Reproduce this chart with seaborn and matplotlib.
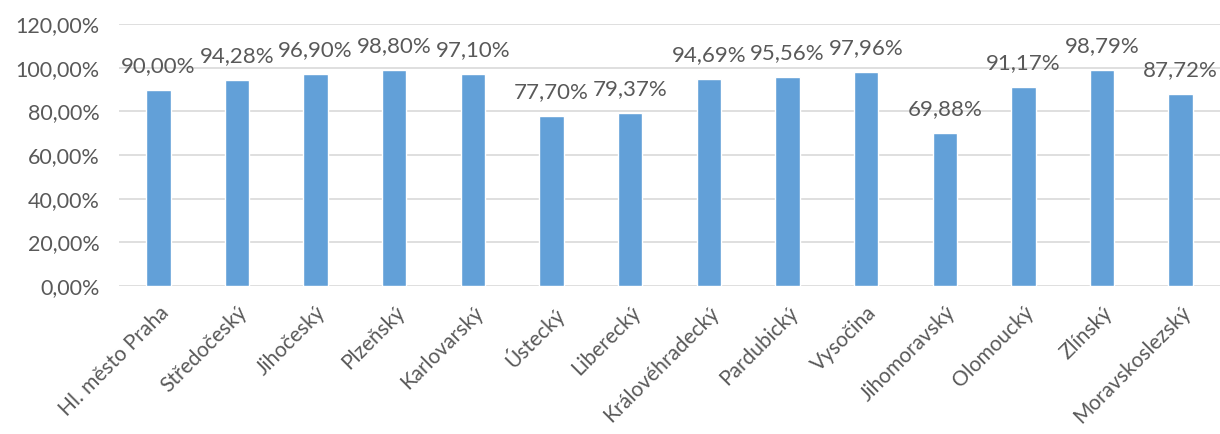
import matplotlib
matplotlib.use("Agg")
import matplotlib.pyplot as plt
import seaborn as sns
import pandas as pd

regions = ["Hl. město Praha", "Středočeský", "Jihočeský", "Plzeňský", "Karlovarský",
           "Ústecký", "Liberecký", "Královéhradecký", "Pardubický", "Vysočina",
           "Jihomoravský", "Olomoucký", "Zlínský", "Moravskoslezský"]
values = [90.00, 94.28, 96.90, 98.80, 97.10, 77.70, 79.37, 94.69, 95.56, 97.96,
          69.88, 91.17, 98.79, 87.72]
yticks = [0, 20, 40, 60, 80, 100, 120]

sns.set_theme(style="white")
plt.rcParams['font.family'] = ['Lato', 'DejaVu Sans']

df = pd.DataFrame({"region": regions, "value": values})

fig = plt.figure(figsize=(12.2, 4.34), dpi=100)
ax = fig.add_axes([119/1220, 1-286/434, (1220-119)/1220, (286-24)/434])

sns.barplot(data=df, x="region", y="value", color="#62A0D8", width=0.31,
            saturation=1, ax=ax, zorder=3)

ax.set_ylim(0, 120)
ax.set_yticks(yticks)
ax.set_yticklabels([f"{v:.2f}".replace(".", ",") + "%" for v in yticks])
ax.yaxis.grid(True, color="#D9D9D9", linewidth=1.2)
ax.set_axisbelow(True)
for s in ax.spines.values():
    s.set_visible(False)
ax.tick_params(axis="y", length=0, pad=14, labelsize=15.5, labelcolor="#595959")
ax.tick_params(axis="x", length=0, pad=12, labelsize=15, labelcolor="#595959")
ax.set_xlabel("")
ax.set_ylabel("")
ax.set_xlim(-0.5, len(regions) - 0.5)

for lbl in ax.get_xticklabels():
    lbl.set_rotation(45)
    lbl.set_ha("right")
    lbl.set_rotation_mode("anchor")

for i, v in enumerate(values):
    ax.annotate(f"{v:.2f}".replace(".", ",") + "%", xy=(i, v), xytext=(0, 10),
                textcoords="offset points", ha="center", va="bottom",
                fontsize=16, color="#595959")

fig.savefig("out.png", dpi=100)
